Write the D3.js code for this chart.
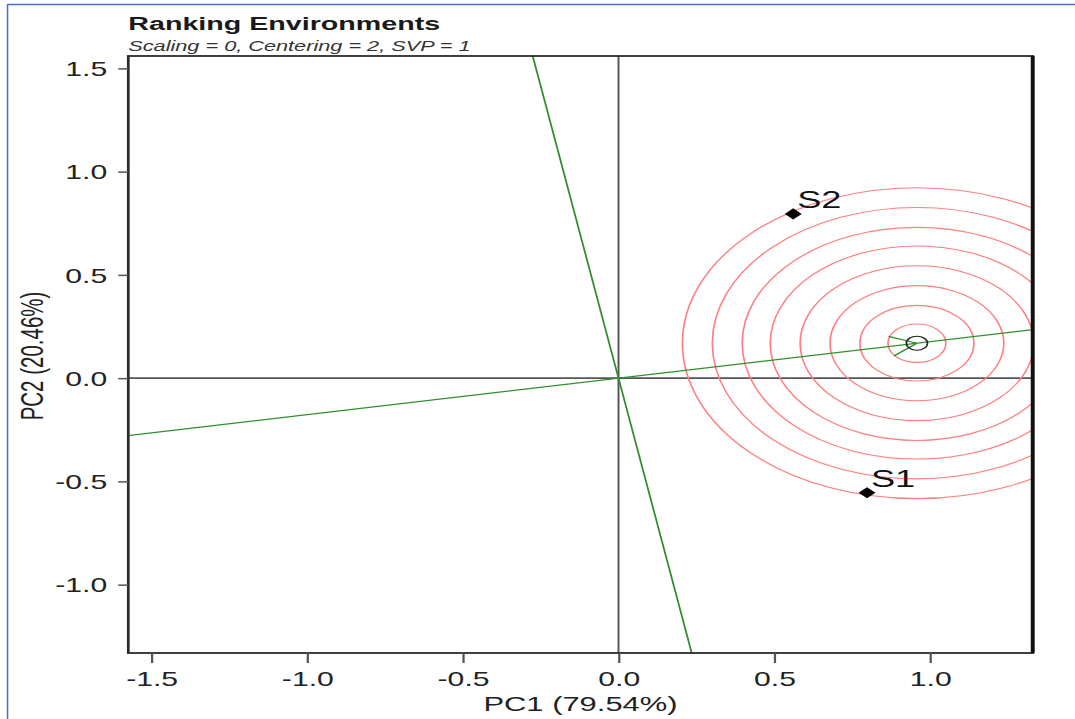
<!DOCTYPE html>
<html>
<head>
<meta charset="utf-8">
<script src="https://cdn.jsdelivr.net/npm/d3@7"></script>
<style>
  html, body { margin: 0; padding: 0; background: #fff; }
  svg { display: block; }
  text { font-family: "Liberation Sans", Arial, sans-serif; }
</style>
</head>
<body>
<div id="chart"></div>
<script>
// Environment scores on the first two principal components
const envNames = ["S1", "S2"];
const envPC1 = [0.798, 0.561];
const envPC2 = [-0.555, 0.795];

// Concentric distance circles around the ideal environment (PC units)
const circleRadii = [0.093, 0.183, 0.279, 0.375, 0.471, 0.561, 0.657, 0.753];

// Axis ticks and labels
const xTicks = [-1.5, -1.0, -0.5, 0.0, 0.5, 1.0];
const yTicks = [-1.0, -0.5, 0.0, 0.5, 1.0, 1.5];
const xDomain = [-1.574, 1.330];
const yDomain = [-1.331, 1.560];
const titleText = "Ranking Environments";
const subtitleText = "Scaling = 0, Centering = 2, SVP = 1";
const xLabel = "PC1 (79.54%)";
const yLabel = "PC2 (20.46%)";

// The biplot is drawn with equal units on both axes in an internal
// coordinate space, then laid out across the wider page.
const W = 1075, H = 719;
const stretch = 1.5085;
const VW = W / stretch;

const svg = d3.select("#chart").append("svg")
  .attr("width", W).attr("height", H)
  .attr("viewBox", `0 0 ${VW} ${H}`)
  .attr("preserveAspectRatio", "none");

const plot = { left: 85.05, right: 684.6, top: 56, bottom: 653 };

const x = d3.scaleLinear().domain(xDomain).range([plot.left, plot.right]);
const y = d3.scaleLinear().domain(yDomain).range([plot.bottom, plot.top]);

// tick labels with a plain hyphen for negatives
const fmt = d => d3.format(".1f")(d).replace("\u2212", "-");

// outer page border
svg.append("line").attr("x1", 5).attr("x2", VW).attr("y1", 4.5).attr("y2", 4.5)
  .attr("stroke", "#4472c4").attr("stroke-width", 1.6);
svg.append("line").attr("x1", 5).attr("x2", 5).attr("y1", 4).attr("y2", H)
  .attr("stroke", "#4472c4").attr("stroke-width", 1.0);

svg.append("defs").append("clipPath").attr("id", "plot-clip")
  .append("rect")
  .attr("x", plot.left).attr("y", plot.top)
  .attr("width", plot.right - plot.left).attr("height", plot.bottom - plot.top);

const g = svg.append("g").attr("clip-path", "url(#plot-clip)");

// zero axes
g.append("line").attr("x1", x(0)).attr("x2", x(0)).attr("y1", plot.top).attr("y2", plot.bottom)
  .attr("stroke", "#555").attr("stroke-width", 1.3);
g.append("line").attr("x1", plot.left).attr("x2", plot.right).attr("y1", y(0)).attr("y2", y(0))
  .attr("stroke", "#555").attr("stroke-width", 1.6);

// average-environment axis direction and ideal environment
const meanPC1 = d3.mean(envPC1), meanPC2 = d3.mean(envPC2);
const meanLen = Math.hypot(meanPC1, meanPC2);
const ux = meanPC1 / meanLen, uy = meanPC2 / meanLen;
const maxLen = d3.max(envPC1.map((v, i) => Math.hypot(v, envPC2[i])));
const ideal = [ux * maxLen, uy * maxLen];

// circles around the ideal environment
g.selectAll("circle.ring").data(circleRadii).join("circle")
  .attr("class", "ring")
  .attr("cx", x(ideal[0])).attr("cy", y(ideal[1]))
  .attr("r", d => x(d) - x(0))
  .attr("fill", "none").attr("stroke", "#ff7f7f").attr("stroke-width", 1.1);

const green = "#2f8f2f";
const far = 10;
// average-environment axis
g.append("line")
  .attr("x1", x(-ux * far)).attr("y1", y(-uy * far))
  .attr("x2", x(ux * far)).attr("y2", y(uy * far))
  .attr("stroke", green).attr("stroke-width", 1.2);
// perpendicular through the origin
g.append("line")
  .attr("x1", x(-uy * far)).attr("y1", y(ux * far))
  .attr("x2", x(uy * far)).attr("y2", y(-ux * far))
  .attr("stroke", green).attr("stroke-width", 1.2);

// arrow head pointing at the ideal environment
const tipX = x(ideal[0]), tipY = y(ideal[1]);
const backAng = Math.atan2(y(0) - tipY, x(0) - tipX);
const headLen = 20, headAng = Math.PI / 6;
[-1, 1].forEach(s => {
  g.append("line")
    .attr("x1", tipX).attr("y1", tipY)
    .attr("x2", tipX + headLen * Math.cos(backAng + s * headAng))
    .attr("y2", tipY + headLen * Math.sin(backAng + s * headAng))
    .attr("stroke", green).attr("stroke-width", 1.2);
});

// ideal environment marker
g.append("circle").attr("cx", tipX).attr("cy", tipY).attr("r", 7)
  .attr("fill", "none").attr("stroke", "#222").attr("stroke-width", 1.1);

// environments
const envs = envNames.map((n, i) => ({ name: n, pc1: envPC1[i], pc2: envPC2[i] }));
const diamond = "M0,-5.6L5.6,0L0,5.6L-5.6,0Z";
g.selectAll("path.env").data(envs).join("path")
  .attr("class", "env")
  .attr("d", diamond)
  .attr("transform", d => `translate(${x(d.pc1)},${y(d.pc2)})`)
  .attr("fill", "#000");
g.selectAll("text.env").data(envs).join("text")
  .attr("class", "env")
  .attr("x", d => x(d.pc1) + 2.6).attr("y", d => y(d.pc2) - 6)
  .attr("font-size", 24).attr("fill", "#111")
  .text(d => d.name);

// frame
svg.append("rect")
  .attr("x", plot.left).attr("y", plot.top)
  .attr("width", plot.right - plot.left).attr("height", plot.bottom - plot.top)
  .attr("fill", "none").attr("stroke", "#2a2a2a").attr("stroke-width", 1.8);
svg.append("line").attr("x1", plot.right).attr("x2", plot.right)
  .attr("y1", plot.top).attr("y2", plot.bottom)
  .attr("stroke", "#111").attr("stroke-width", 2.6);

// axes
const xAxis = d3.axisBottom(x).tickValues(xTicks).tickFormat(fmt)
  .tickSize(6.7).tickPadding(4);
const gx = svg.append("g").attr("transform", `translate(0,${plot.bottom})`).call(xAxis);
gx.select(".domain").remove();
gx.selectAll(".tick line").attr("stroke", "#555").attr("stroke-width", 1.5).attr("y2", 10);
gx.selectAll(".tick text").attr("font-size", 20).attr("fill", "#222")
  .attr("font-family", "'Liberation Sans', Arial, sans-serif")
  .attr("dy", null).attr("y", 33);

const yAxis = d3.axisLeft(y).tickValues(yTicks).tickFormat(fmt)
  .tickSize(6.7).tickPadding(4);
const gy = svg.append("g").attr("transform", `translate(${plot.left},0)`).call(yAxis);
gy.select(".domain").remove();
gy.selectAll(".tick line").attr("stroke", "#555").attr("stroke-width", 1.5);
gy.selectAll(".tick text").attr("font-size", 20).attr("fill", "#222")
  .attr("font-family", "'Liberation Sans', Arial, sans-serif")
  .attr("x", -14).attr("dy", "0.36em");

// titles
svg.append("text").attr("x", plot.left).attr("y", 30)
  .attr("font-size", 19).attr("font-weight", "bold").attr("fill", "#1a1a1a")
  .text(titleText);
svg.append("text").attr("x", plot.left).attr("y", 51.5)
  .attr("font-size", 14.4).attr("font-style", "italic").attr("fill", "#333")
  .text(subtitleText);

svg.append("text")
  .attr("x", (plot.left + plot.right) / 2).attr("y", 711)
  .attr("text-anchor", "middle").attr("font-size", 20.5).attr("fill", "#222")
  .text(xLabel);
svg.append("text")
  .attr("transform", `translate(28.7,${(plot.top + plot.bottom) / 2 + 1.5}) rotate(-90)`)
  .attr("text-anchor", "middle").attr("font-size", 20.5).attr("fill", "#222")
  .text(yLabel);
</script>
</body>
</html>
